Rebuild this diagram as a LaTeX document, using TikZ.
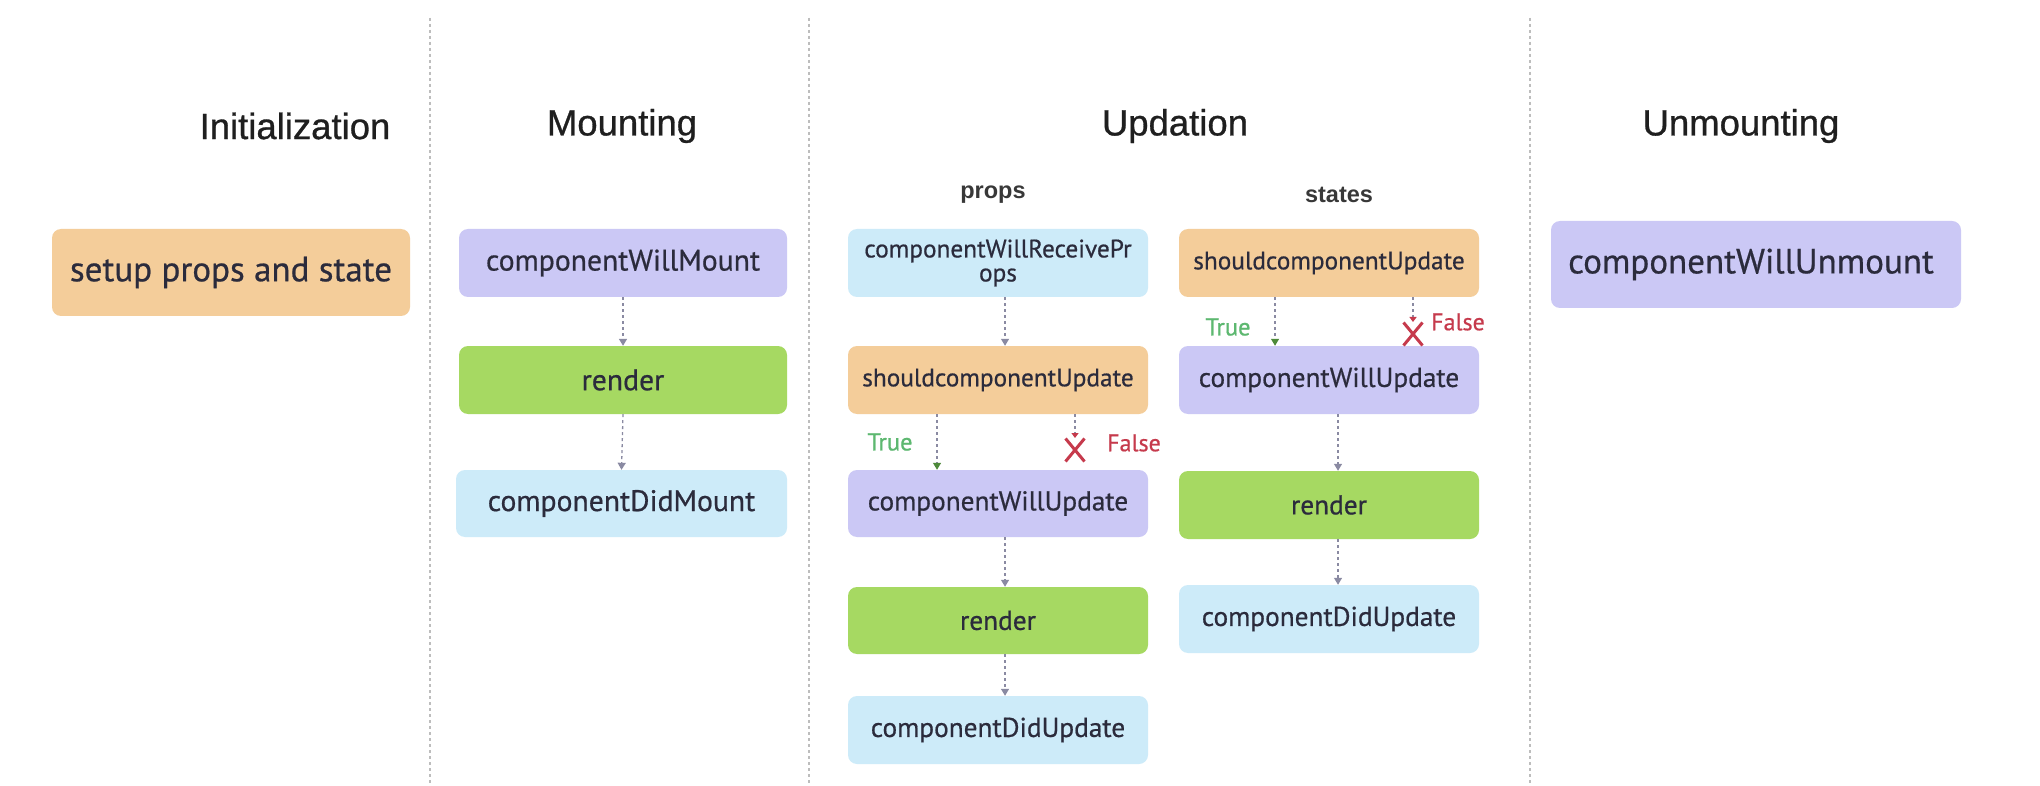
\documentclass[tikz,border=0pt]{standalone}
\usepackage{fontspec}
\setmainfont{PT Sans}[FakeBold=0.6]
\newfontfamily\ttlfont{Liberation Sans}[FakeBold=0.8]
\newfontfamily\subfont{Liberation Sans}
\usetikzlibrary{arrows.meta,shapes.misc}
\definecolor{cOrange}{HTML}{F4CD9A}
\definecolor{cLav}{HTML}{CBC8F5}
\definecolor{cGreen}{HTML}{A6D962}
\definecolor{cBlue}{HTML}{CDEBF9}
\definecolor{cText}{HTML}{2B2B3C}
\definecolor{cTrue}{HTML}{5DB870}
\definecolor{cTrueD}{HTML}{4E8A3A}
\definecolor{cFalse}{HTML}{C63A4C}
\definecolor{cArrow}{HTML}{8A8AA2}
\definecolor{cDiv}{HTML}{BDBDBD}
\tikzset{
  box/.style={rounded corners=9pt, inner sep=0pt, text=cText, align=center},
  ttl/.style={font=\ttlfont\fontsize{36.5}{40}\selectfont, text=black!88},
  sub/.style={font=\subfont\bfseries\fontsize{23.5}{26}\selectfont, text=black!78},
  mtext/.style={font=\fontsize{29.7}{33}\selectfont},
  utext/.style={font=\fontsize{27.3}{31}\selectfont},
  stext/.style={font=\fontsize{25.3}{27}\selectfont},
  flow/.style={draw=cArrow, line width=1.3pt, dash pattern=on 3pt off 3pt, -{Triangle[width=8pt,length=7pt]}},
  tflow/.style={draw=cArrow, line width=1.3pt, dash pattern=on 3pt off 3pt, -{Triangle[width=8pt,length=7pt,color=cTrueD]}},
  fflow/.style={draw=cArrow, line width=1.3pt, dash pattern=on 3pt off 3pt, -{Triangle[width=7pt,length=5pt,color=cFalse]}},
  xmark/.style={cross out, draw=cFalse, line width=3pt, minimum width=16pt, minimum height=20pt, inner sep=0pt},
  tlabel/.style={text=cTrue, font=\fontsize{24.5}{27}\selectfont},
  flabel/.style={text=cFalse, font=\fontsize{24}{27}\selectfont},
  divider/.style={draw=cDiv, line width=1.4pt, dash pattern=on 3pt off 3pt}
}
\begin{document}
\begin{tikzpicture}[x=1pt,y=-1pt]
\useasboundingbox[fill=white] (0,0) rectangle (2040,786);
% dividers
\coordinate (d1t) at (430,18); \coordinate (d1b) at (430,786);
\coordinate (d2t) at (809,18); \coordinate (d2b) at (809,786);
\coordinate (d3t) at (1530,18); \coordinate (d3b) at (1530,786);
\draw[divider] (d1t) -- (d1b);
\draw[divider] (d2t) -- (d2b);
\draw[divider] (d3t) -- (d3b);
% titles
\node[ttl] (tInit) at (295,126) {Initialization};
\node[ttl] (tMount) at (622,126) {Mounting};
\node[ttl] (tUpd) at (1175,126) {Updation};
\node[ttl] (tUnm) at (1741,126) {Unmounting};
\node[sub] (tProps) at (993,195) {props};
\node[sub] (tStates) at (1339,195) {states};
% initialization
\node[box, fill=cOrange, minimum width=358pt, minimum height=87pt, font=\fontsize{35}{38}\selectfont] (setup) at (231,272.5) {setup props and state};
% mounting
\node[box, fill=cLav, minimum width=328pt, minimum height=68pt, mtext] (cwm) at (623,263) {componentWillMount};
\node[box, fill=cGreen, minimum width=328pt, minimum height=68pt, mtext] (rm) at (623,380) {render};
\node[box, fill=cBlue, minimum width=331pt, minimum height=67pt, mtext] (cdm) at (621.5,503.5) {componentDidMount};
\draw[flow] (cwm.south) -- (rm.north);
\draw[flow] (rm.south) -- (cdm.north);
% updation - props
\node[box, fill=cBlue, minimum width=300pt, minimum height=68pt, stext] (cwrp) at (998,263) {componentWillReceivePr\\[-3pt]ops};
\node[box, fill=cOrange, minimum width=300pt, minimum height=68pt, stext] (scuP) at (998,380) {shouldcomponentUpdate};
\node[box, fill=cLav, minimum width=300pt, minimum height=67pt, utext] (cwuP) at (998,503.5) {componentWillUpdate};
\node[box, fill=cGreen, minimum width=300pt, minimum height=67pt, utext] (rP) at (998,620.5) {render};
\node[box, fill=cBlue, minimum width=300pt, minimum height=68pt, utext] (cduP) at (998,730) {componentDidUpdate};
\draw[flow] ([xshift=7pt]cwrp.south) -- ([xshift=7pt]scuP.north);
\draw[tflow] ([xshift=-61pt]scuP.south) -- ([xshift=-61pt]cwuP.north);
\node[tlabel] (trueP) at (890,442) {True};
\node[xmark] (xP) at (1075,450) {};
\coordinate (xPtop) at (1075,438);
\draw[fflow] (scuP.south -| xPtop) -- (xPtop);
\node[flabel] (falseP) at (1134,443) {False};
\draw[flow] ([xshift=7pt]cwuP.south) -- ([xshift=7pt]rP.north);
\draw[flow] ([xshift=7pt]rP.south) -- ([xshift=7pt]cduP.north);
% updation - states
\node[box, fill=cOrange, minimum width=300pt, minimum height=68pt, stext] (scuS) at (1329,263) {shouldcomponentUpdate};
\node[box, fill=cLav, minimum width=300pt, minimum height=68pt, utext] (cwuS) at (1329,380) {componentWillUpdate};
\node[box, fill=cGreen, minimum width=300pt, minimum height=68pt, utext] (rS) at (1329,505) {render};
\node[box, fill=cBlue, minimum width=300pt, minimum height=68pt, utext] (cduS) at (1329,619) {componentDidUpdate};
\draw[tflow] ([xshift=-54pt]scuS.south) -- ([xshift=-54pt]cwuS.north);
\node[tlabel] (trueS) at (1228,327) {True};
\node[xmark] (xS) at (1413,334) {};
\coordinate (xStop) at (1413,322);
\draw[fflow] (scuS.south -| xStop) -- (xStop);
\node[flabel] (falseS) at (1458,322) {False};
\draw[flow] ([xshift=9pt]cwuS.south) -- ([xshift=9pt]rS.north);
\draw[flow] ([xshift=9pt]rS.south) -- ([xshift=9pt]cduS.north);
% unmounting
\node[box, fill=cLav, minimum width=410pt, minimum height=87pt, font=\fontsize{35}{38}\selectfont] (cwu) at (1756,264.5) {componentWillUnmount\hspace*{10pt}};
\end{tikzpicture}
\end{document}
